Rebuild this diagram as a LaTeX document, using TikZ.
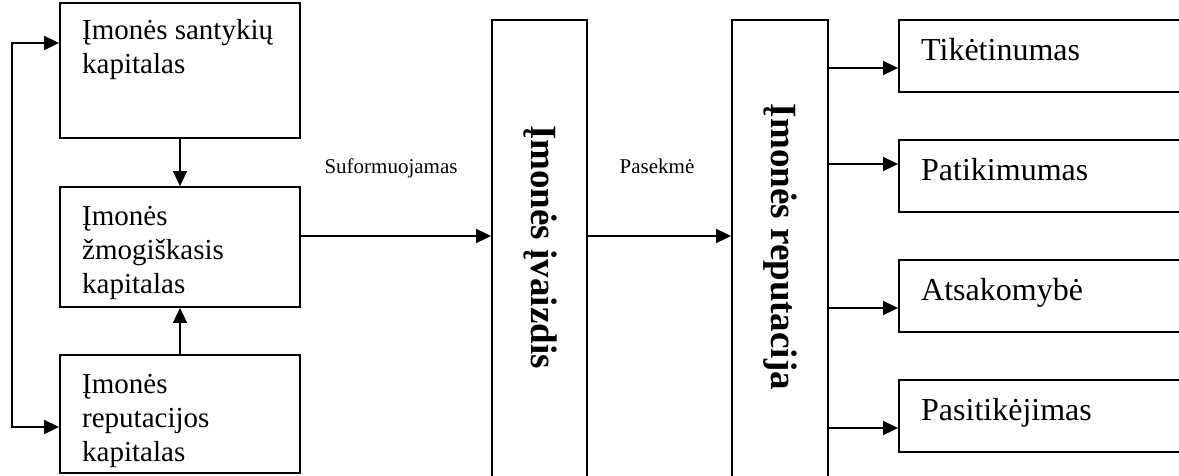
\documentclass[tikz,border=0pt]{standalone}
\usepackage{fontspec}
\setmainfont{Liberation Serif}
\usetikzlibrary{arrows.meta}
\newcommand{\stack}[1]{\begin{tabular}[t]{@{}l@{}}#1\end{tabular}}
\begin{document}
\begin{tikzpicture}[x=1pt,y=-1pt,
  box/.style={draw,line width=1.8pt,rectangle,inner sep=0pt},
  tip/.tip={Triangle[length=15pt,width=14pt]},
  arr/.style={line width=1.6pt,-tip},
  twoarr/.style={line width=1.6pt,tip-tip},
  lefttxt/.style={anchor=base west,inner sep=0pt,font=\fontsize{29}{34}\selectfont},
  righttxt/.style={anchor=base west,inner sep=0pt,font=\fontsize{32}{38}\selectfont},
  edgetxt/.style={anchor=base,inner sep=0pt,font=\fontsize{21}{25}\selectfont},
  verttxt/.style={rotate=-90,inner sep=0pt,font=\fontsize{37}{44}\selectfont\bfseries}]
\useasboundingbox (0,0) rectangle (1179,475);
\clip (0,0) rectangle (1179,475);

% left column: the three kinds of capital
\node[box,minimum width=240pt,minimum height=135pt] (b1) at (180,70.5) {};
\node[box,minimum width=240pt,minimum height=120pt] (b2) at (180,247) {};
\node[box,minimum width=240pt,minimum height=118pt] (b3) at (180,414) {};
\node[lefttxt] (t1) at (82,39) {\stack{Įmonės santykių\\kapitalas}};
\node[lefttxt] (t2) at (82,225) {\stack{Įmonės\\žmogiškasis\\kapitalas}};
\node[lefttxt] (t3) at (82,393) {\stack{Įmonės\\reputacijos\\kapitalas}};

% the two tall central boxes
\node[box,minimum width=95pt,minimum height=480pt] (img) at (539.5,260) {};
\node[box,minimum width=96pt,minimum height=480pt] (rep) at (780,260) {};
\node[verttxt] (timg) at (540,247) {Įmonės įvaizdis};
\node[verttxt] (trep) at (780,247) {Įmonės reputacija};

% right column: reputation components
\node[box,minimum width=331pt,minimum height=72pt] (r1) at (1064.5,56) {};
\node[box,minimum width=331pt,minimum height=72pt] (r2) at (1064.5,176) {};
\node[box,minimum width=331pt,minimum height=72pt] (r3) at (1064.5,296) {};
\node[box,minimum width=331pt,minimum height=72pt] (r4) at (1064.5,416) {};
\node[righttxt] (s1) at (921,60) {Tikėtinumas};
\node[righttxt] (s2) at (921,180) {Patikimumas};
\node[righttxt] (s3) at (921,300) {Atsakomybė};
\node[righttxt] (s4) at (921,420) {Pasitikėjimas};

% edge labels
\node[edgetxt] (l1) at (391,173) {Suformuojamas};
\node[edgetxt] (l2) at (657,173) {Pasekmė};

% connectors
\draw[arr] (b1) -- (b2);
\draw[arr] (b3) -- (b2);
\coordinate (la) at (12,43);
\coordinate (lb) at (12,427);
\draw[twoarr] (la -| b1.west) -- (la) -- (lb) -- (lb -| b3.west);
\coordinate (mid) at (0,236);
\draw[arr] (b2.east |- mid) -- (img.west |- mid);
\draw[arr] (img.east |- mid) -- (rep.west |- mid);
\coordinate (y1) at (0,68);
\coordinate (y2) at (0,164);
\coordinate (y3) at (0,308);
\coordinate (y4) at (0,428);
\draw[arr] (rep.east |- y1) -- (r1.west |- y1);
\draw[arr] (rep.east |- y2) -- (r2.west |- y2);
\draw[arr] (rep.east |- y3) -- (r3.west |- y3);
\draw[arr] (rep.east |- y4) -- (r4.west |- y4);
\end{tikzpicture}
\end{document}
